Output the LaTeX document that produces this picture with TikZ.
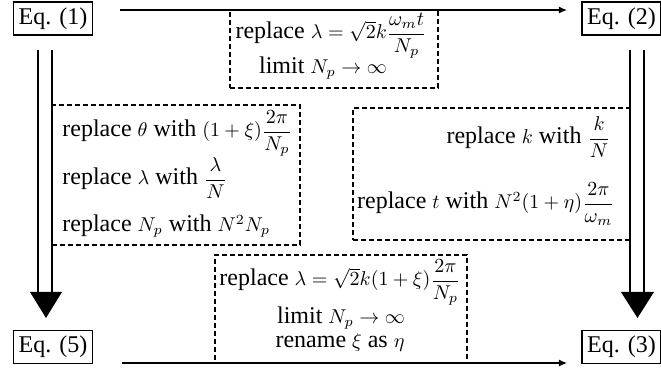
\documentclass[tikz,border=0pt]{standalone}
\usepackage[no-math]{fontspec}
\setmainfont{Liberation Serif}
\usepackage{amsmath}
\usetikzlibrary{arrows.meta}
\newcommand{\mm}[1]{{\fontsize{10}{12}\selectfont$#1$}}
\begin{document}
\begin{tikzpicture}[x=0.5pt,y=-0.5pt,
  font=\fontsize{12}{14}\selectfont,
  eqbox/.style={draw, line width=0.6pt, inner sep=0pt, minimum width=39.5pt, minimum height=16.5pt},
  dbox/.style={draw, dash pattern=on 2.4pt off 1.6pt, line width=0.65pt, inner sep=0pt},
  txt/.style={inner sep=0pt, anchor=base},
  conn/.style={line width=0.6pt, -{Latex[length=4pt,width=3.5pt]}},
  dline/.style={line width=0.9pt},
  dhead/.style={fill=black, draw=none}]
\useasboundingbox (0,0) rectangle (661,373);

% equation boxes
\node[eqbox] (e1) at (53,18.5) {Eq. (1)};
\node[eqbox] (e2) at (621.5,18.5) {Eq. (2)};
\node[eqbox] (e5) at (53,347) {Eq. (5)};
\node[eqbox] (e3) at (621.5,347) {Eq. (3)};

% dashed boxes
\node[dbox, minimum width=104pt, minimum height=39pt] (bt) at (334,49) {};
\node[dbox, minimum width=124pt, minimum height=70pt] (bl) at (176,175) {};
\node[dbox, minimum width=138.5pt, minimum height=66pt] (br) at (491.5,174) {};
\node[dbox, minimum width=126pt, minimum height=54pt] (bb) at (341,309) {};

% top box text
\node[txt] (t1) at (331,39) {replace \mm{\lambda=\sqrt{2}k\dfrac{\omega_m t}{N_p}}};
\node[txt] (t2) at (323,74) {limit \mm{N_p\rightarrow\infty}};

% left box text
\node[txt, anchor=base west] (l1) at (62,137) {replace \mm{\theta} with \mm{(1+\xi)\dfrac{2\pi}{N_p}}};
\node[txt, anchor=base west] (l2) at (62,185) {replace \mm{\lambda} with \mm{\dfrac{\lambda}{N}}};
\node[txt, anchor=base west] (l3) at (62,232) {replace \mm{N_p} with \mm{N^2N_p}};

% right box text
\node[txt, anchor=base east] (r1) at (611,144) {replace \mm{k} with \mm{\dfrac{k}{N}}};
\node[txt, anchor=base east] (r2) at (615,209) {replace \mm{t} with \mm{N^2(1+\eta)\dfrac{2\pi}{\omega_m}}};

% bottom box text
\node[txt] (m1) at (340,286) {replace \mm{\lambda=\sqrt{2}k(1+\xi)\dfrac{2\pi}{N_p}}};
\node[txt] (m2) at (341,324) {limit \mm{N_p\rightarrow\infty}};
\node[txt] (m3) at (340,348) {rename \mm{\xi} as \mm{\eta}};

% horizontal arrows
\coordinate (ta) at (120,10);
\coordinate (tb) at (567,10);
\coordinate (ba) at (122,363);
\coordinate (bb2) at (567,363);
\draw[conn] (ta) -- (tb);
\draw[conn] (ba) -- (bb2);

% left double arrow
\coordinate (la1) at (38,50);
\coordinate (la2) at (38,292);
\coordinate (lb1) at (52,50);
\coordinate (lb2) at (52,292);
\coordinate (lh1) at (30,292);
\coordinate (lh2) at (62,292);
\coordinate (lt) at (46,318);
\draw[dline] (la1) -- (la2);
\draw[dline] (lb1) -- (lb2);
\fill[dhead] (lh1) -- (lh2) -- (lt) -- cycle;

% right double arrow
\coordinate (ra1) at (630,50);
\coordinate (ra2) at (630,292);
\coordinate (rb1) at (644,50);
\coordinate (rb2) at (644,292);
\coordinate (rh1) at (621,292);
\coordinate (rh2) at (654,292);
\coordinate (rt) at (637.5,318);
\draw[dline] (ra1) -- (ra2);
\draw[dline] (rb1) -- (rb2);
\fill[dhead] (rh1) -- (rh2) -- (rt) -- cycle;
\end{tikzpicture}
\end{document}
